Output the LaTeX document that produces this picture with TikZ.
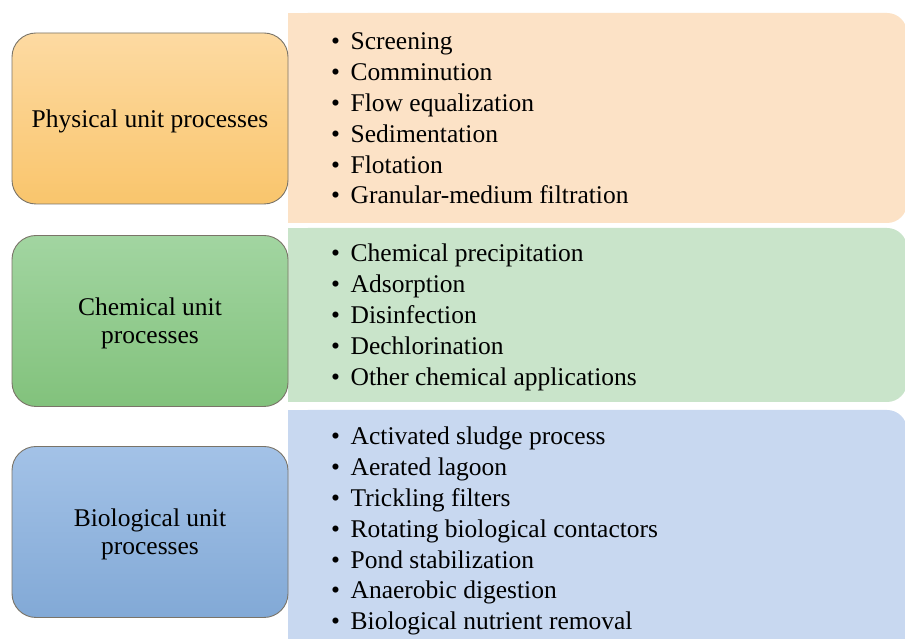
\documentclass[tikz,border=0pt]{standalone}
\usepackage{fontspec}
\setmainfont{Liberation Serif}
\definecolor{orTop}{HTML}{FDDAA2}
\definecolor{orBot}{HTML}{F9C56C}
\definecolor{orPan}{HTML}{FCE2C6}
\definecolor{grTop}{HTML}{A2D5A1}
\definecolor{grBot}{HTML}{82C27C}
\definecolor{grPan}{HTML}{C9E4CA}
\definecolor{blTop}{HTML}{A3C2E7}
\definecolor{blBot}{HTML}{82A9D6}
\definecolor{blPan}{HTML}{C8D8F0}
\definecolor{edge}{HTML}{7A7468}
\tikzset{
  leftbox/.style={draw=edge, line width=0.9pt, rounded corners=24pt,
    minimum width=276pt, minimum height=171pt, inner sep=0pt},
  boxtext/.style={align=center, inner sep=0pt,
    font=\fontsize{25.5}{28}\selectfont, text=black},
  item/.style={anchor=base west, inner sep=0pt, font=\fontsize{25.5}{30}\selectfont, text=black},
}
\newcommand{\bul}{\makebox[19.5pt][l]{\textbullet}}
\begin{document}
\begin{tikzpicture}[x=1pt,y=1pt]
\useasboundingbox (0,0) rectangle (905,639);
\clip (0,0) rectangle (905,639);
\fill[white] (0,0) rectangle (905,639);
% right panels
\fill[orPan, rounded corners=20pt] (288,626) rectangle (907,416);
\fill[orPan] (288,626) rectangle (330,416);
\fill[grPan, rounded corners=20pt] (288,411) rectangle (907,237);
\fill[grPan] (288,411) rectangle (330,237);
\fill[blPan, rounded corners=20pt] (288,229) rectangle (907,-30);
\fill[blPan] (288,229) rectangle (330,-30);
% left boxes
\node[leftbox, top color=orTop, bottom color=orBot] (phys) at (150,520.5) {};
\node[leftbox, top color=grTop, bottom color=grBot] (chem) at (150,318) {};
\node[leftbox, top color=blTop, bottom color=blBot] (bio) at (150,107) {};
\node[boxtext] (physT) at ([yshift=-2.5pt]phys.center) {Physical unit processes};
\node[boxtext] (chemT) at ([yshift=-2.5pt]chem.center) {Chemical unit\\processes};
\node[boxtext] (bioT) at ([yshift=-2pt]bio.center) {Biological unit\\processes};
% items
\foreach \t [count=\i] in {Screening, Comminution, Flow equalization, Sedimentation, Flotation, Granular-medium filtration}
  \node[item] (p\i) at (331,{589-(\i-1)*30.8}) {\bul\t};
\foreach \t [count=\i] in {Chemical precipitation, Adsorption, Disinfection, Dechlorination, Other chemical applications}
  \node[item] (c\i) at (331,{377-(\i-1)*30.8}) {\bul\t};
\foreach \t [count=\i] in {Activated sludge process, Aerated lagoon, Trickling filters, Rotating biological contactors, Pond stabilization, Anaerobic digestion, Biological nutrient removal}
  \node[item] (b\i) at (331,{194-(\i-1)*30.8}) {\bul\t};
\end{tikzpicture}
\end{document}
